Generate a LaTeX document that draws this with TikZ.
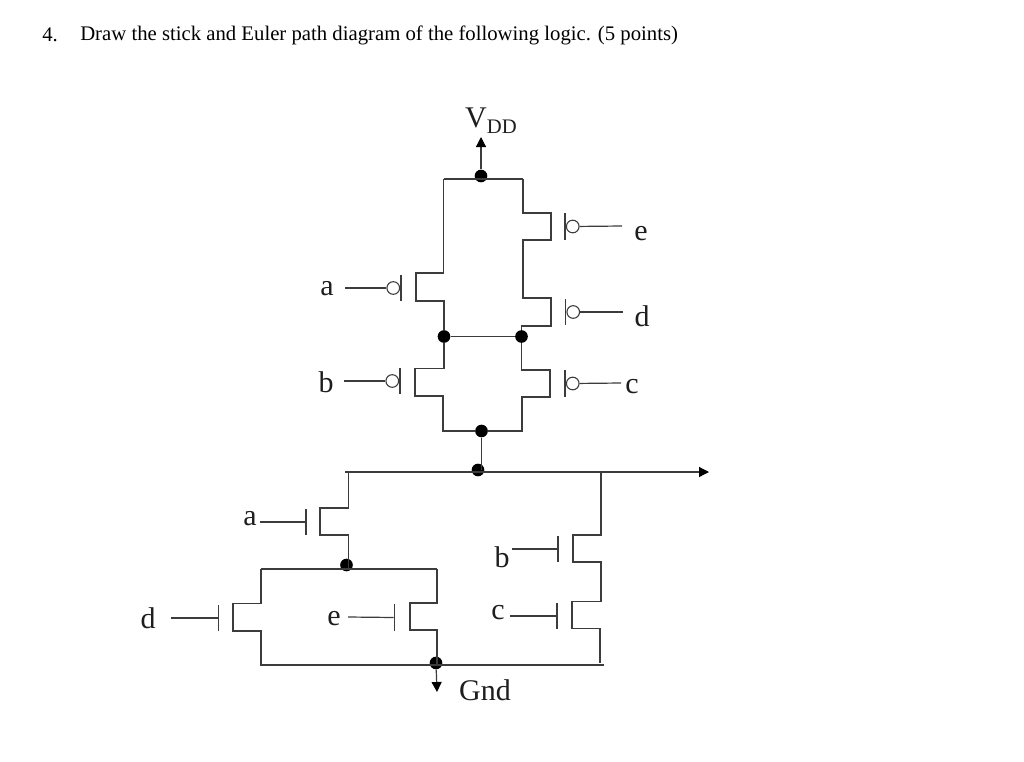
\documentclass[tikz,border=0pt]{standalone}
\usepackage{fontspec}
\setmainfont{Liberation Serif}
\usepackage{xcolor}
\usetikzlibrary{arrows.meta}
\definecolor{wiregray}{RGB}{60, 60, 60}
\definecolor{labelgray}{RGB}{30, 30, 30}
\begin{document}
\begin{tikzpicture}[x=0.75pt,y=-0.75pt,
  wire/.style={draw=wiregray, line width=0.9pt, line join=miter},
  junction/.style={circle, fill=black, inner sep=0pt, minimum size=9.5pt},
  bubble/.style={circle, draw=wiregray, fill=white, line width=0.8pt, inner sep=0pt, minimum size=9.5pt},
  gatebar/.style={rectangle, fill=wiregray, inner sep=0pt, minimum width=0.9pt, minimum height=20pt},
  sig/.style={font=\fontsize{22.5}{26}\selectfont, text=labelgray, inner sep=0pt},
  tip/.style={-{Triangle[length=7.5pt,width=7.5pt,color=black]}}]
\useasboundingbox (0,0) rectangle (1024,761);

\node[font=\fontsize{15.55}{18}\selectfont, text=black, inner sep=0pt, anchor=west] (qnum) at (42,35) {4.};
\node[font=\fontsize{15.55}{18}\selectfont, text=black, inner sep=0pt, anchor=west] (qtext) at (80,35) {Draw the stick and Euler path diagram of the following logic. (5 points)};

% pull-up
\node[sig] (vdd) at (491,121) {V\raisebox{-0.45ex}{\fontsize{15.5}{18}\selectfont DD}};
\node[junction] (jvdd) at (481,176) {};
\node[junction] (jmidl) at (444,336.5) {};
\node[junction] (jmidr) at (521.5,336.5) {};
\node[junction] (jlow) at (481.5,431) {};
\node[junction] (jout) at (478,470) {};
\coordinate (vddtip) at (481,137);
\coordinate (outleft) at (345,472);
\coordinate (outtip) at (709,472);
\draw[wire, tip] (jvdd) -- (vddtip);
\draw[wire] (443.5,179) -- (523,179);
\draw[wire] (443.5,179) -- (443.5,273) -- (416,273) -- (416,301) -- (444,301) -- (jmidl);
\draw[wire] (523,179) -- (523,213) -- (551,213) -- (551,240) -- (523,240) -- (523,298) -- (551,298) -- (551,326) -- (521.5,326) -- (jmidr);
\draw[wire] (jmidl) -- (jmidr);
\draw[wire] (jmidl) -- (444,368.5) -- (415,368.5) -- (415,396) -- (443,396) -- (443,431) -- (jlow);
\draw[wire] (jmidr) -- (521.5,370) -- (550,370) -- (550,397) -- (522,397) -- (522,431) -- (jlow);
\draw[wire] (jlow.south) -- (jlow.south |- jout);
\draw[wire, tip] (outleft) -- (outtip);

% pull-up gates
\node[gatebar] (barpa) at (401,288) {};
\node[bubble, anchor=east] (bubpa) at (barpa.west) {};
\coordinate (inpa) at (345,288);
\node[sig] (lblpa) at (327,289) {a};
\draw[wire] (inpa) -- (bubpa);
\node[gatebar] (barpb) at (400,381) {};
\node[bubble, anchor=east] (bubpb) at (barpb.west) {};
\coordinate (inpb) at (344,381);
\node[sig] (lblpb) at (326,382) {b};
\draw[wire] (inpb) -- (bubpb);
\node[gatebar] (barpe) at (565,226.5) {};
\node[bubble, anchor=west] (bubpe) at (barpe.east) {};
\coordinate (inpe) at (622,226);
\node[sig] (lblpe) at (641,234) {e};
\draw[wire] (inpe) -- (bubpe);
\node[gatebar] (barpd) at (565.5,312) {};
\node[bubble, anchor=west] (bubpd) at (barpd.east) {};
\coordinate (inpd) at (623,312);
\node[sig] (lblpd) at (642,316) {d};
\draw[wire] (inpd) -- (bubpd);
\node[gatebar] (barpc) at (565,383.5) {};
\node[bubble, anchor=west] (bubpc) at (barpc.east) {};
\coordinate (inpc) at (621,383);
\node[sig] (lblpc) at (632,387) {c};
\draw[wire] (inpc) -- (bubpc);

% pull-down
\node[junction] (jna) at (346.5,565) {};
\node[junction] (jgnd) at (436,663) {};
\coordinate (gndtip) at (437,692);
\coordinate (railr) at (604,665);
\node[sig] (gnd) at (485,690) {Gnd};
\draw[wire] (348.5,472) -- (348.5,508) -- (320,508) -- (320,535) -- (348.5,535) -- (348.5,569);
\draw[wire] (261,569) -- (437,569);
\draw[wire] (261,569) -- (261,603.5) -- (233,603.5) -- (233,631) -- (261,631) -- (261,665) -- (railr);
\draw[wire] (437,569) -- (437,603) -- (410,603) -- (410,630) -- (437,630) -- (437,665);
\draw[wire, tip] (jgnd) -- (gndtip);
\draw[wire] (601,472) -- (601,535) -- (573,535) -- (573,562) -- (601,562) -- (601,601.5) -- (572,601.5) -- (572,628.5) -- (600,628.5) -- (600,663);

% pull-down gates
\node[gatebar] (barna) at (306,522) {};
\coordinate (inna) at (260,522);
\node[sig] (lblna) at (250,519) {a};
\draw[wire] (inna) -- (barna);
\node[gatebar] (barnd) at (218.5,618) {};
\coordinate (innd) at (171,618);
\node[sig] (lblnd) at (148,618) {d};
\draw[wire] (innd) -- (barnd);
\node[gatebar] (barne) at (394.5,617.5) {};
\coordinate (inne) at (348,617);
\node[sig] (lblne) at (334,619) {e};
\draw[wire] (inne) -- (barne);
\node[gatebar] (barnb) at (558,549) {};
\coordinate (innb) at (512,549);
\node[sig] (lblnb) at (502,557) {b};
\draw[wire] (innb) -- (barnb);
\node[gatebar] (barnc) at (557,616) {};
\coordinate (innc) at (510,616);
\node[sig] (lblnc) at (498,613) {c};
\draw[wire] (innc) -- (barnc);
\end{tikzpicture}
\end{document}
